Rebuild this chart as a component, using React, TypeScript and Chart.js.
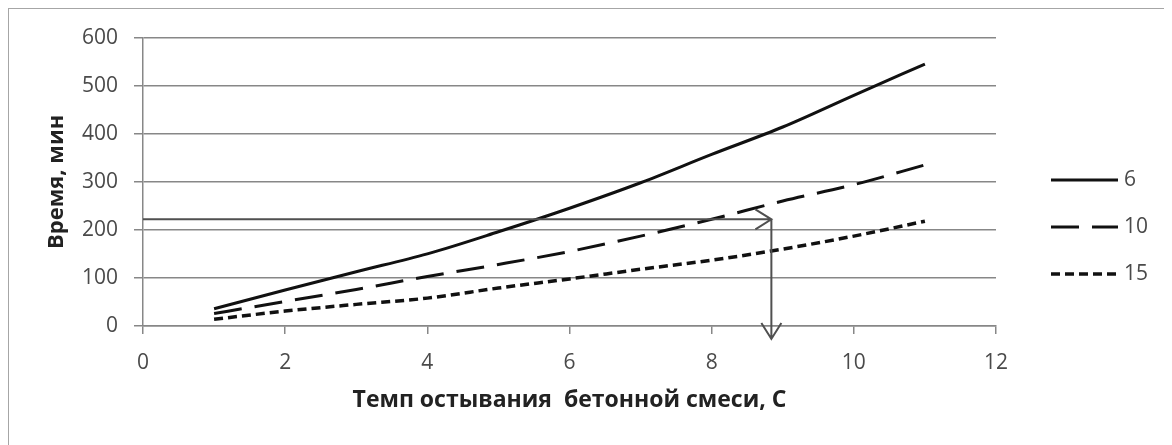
import { useEffect, useRef } from "react";
import { Chart, registerables } from "chart.js";

Chart.register(...registerables);

// ---- data ----
const COOLING_RATE = [1, 2, 3, 4, 5, 6, 7, 8, 9, 10, 11];
const SERIES_LABELS = ["6", "10", "15"];
const TIME_6 = [36, 75, 113, 150, 196, 245, 298, 357, 414, 480, 545];
const TIME_10 = [26, 51, 76, 103, 128, 155, 187, 222, 260, 294, 335];
const TIME_15 = [14, 31, 45, 58, 79, 98, 118, 137, 160, 187, 218];
const X_MIN = 0;
const X_MAX = 12;
const X_STEP = 2;
const Y_MIN = 0;
const Y_MAX = 600;
const Y_STEP = 100;
// reading arrow (value on curve → rate)
const ARROW_TIME = 222;
const ARROW_RATE = 8.84;
const ARROW_END_TIME = -27;

const X_TITLE = "Темп остывания  бетонной смеси, С";
const Y_TITLE = "Время, мин";

const FONT = "'Open Sans', 'DejaVu Sans', sans-serif";
const GRID = "#878787";
const LINE = "#111111";
const TICK_COLOR = "#4a4a4a";
const TITLE_COLOR = "#222222";
const DASHES = [[], [28, 13], [9, 5]];

const legendPlugin = {
  id: "sideLegend",
  afterDraw(chart: any) {
    const { ctx, chartArea } = chart;
    const x0 = chartArea.right + 55;
    const w = 67;
    const cy = chart.height / 2;
    const gap = 47;
    chart.data.datasets.forEach((ds: any, i: number) => {
      const y = cy + (i - 1) * gap;
      ctx.save();
      ctx.strokeStyle = ds.borderColor;
      ctx.lineWidth = ds.borderWidth;
      ctx.setLineDash(ds.borderDash || []);
      ctx.beginPath();
      ctx.moveTo(x0, y);
      ctx.lineTo(x0 + w, y);
      ctx.stroke();
      ctx.setLineDash([]);
      ctx.fillStyle = TICK_COLOR;
      ctx.font = `21px ${FONT}`;
      ctx.textBaseline = "middle";
      ctx.textAlign = "left";
      ctx.fillText(ds.label, x0 + w + 6, y);
      ctx.restore();
    });
  },
};

const arrowPlugin = {
  id: "readArrow",
  afterDatasetsDraw(chart: any) {
    const { ctx } = chart;
    const xs = chart.scales.x;
    const ys = chart.scales.y;
    const xStart = xs.getPixelForValue(X_MIN);
    const xEnd = xs.getPixelForValue(ARROW_RATE);
    const yH = ys.getPixelForValue(ARROW_TIME);
    const yEnd = ys.getPixelForValue(ARROW_END_TIME);
    ctx.save();
    ctx.strokeStyle = "#505050";
    ctx.lineWidth = 2;
    ctx.setLineDash([]);
    ctx.beginPath();
    ctx.moveTo(xStart, yH);
    ctx.lineTo(xEnd, yH);
    ctx.moveTo(xEnd - 16, yH - 10);
    ctx.lineTo(xEnd, yH);
    ctx.lineTo(xEnd - 16, yH + 10);
    ctx.moveTo(xEnd, yH);
    ctx.lineTo(xEnd, yEnd);
    ctx.moveTo(xEnd - 10, yEnd - 16);
    ctx.lineTo(xEnd, yEnd);
    ctx.lineTo(xEnd + 10, yEnd - 16);
    ctx.stroke();
    ctx.restore();
  },
};

export default function App() {
  const ref = useRef<HTMLCanvasElement>(null);

  useEffect(() => {
    if (!ref.current) return;
    const series = [TIME_6, TIME_10, TIME_15];
    const chart = new Chart(ref.current, {
      type: "line",
      data: {
        datasets: series.map((vals, i) => ({
          label: SERIES_LABELS[i],
          data: COOLING_RATE.map((x, j) => ({ x, y: vals[j] })),
          borderColor: LINE,
          borderWidth: i === 2 ? 3.5 : 3,
          borderDash: DASHES[i],
          pointRadius: 0,
          cubicInterpolationMode: "monotone",
          fill: false,
        })),
      },
      options: {
        animation: false,
        responsive: false,
        maintainAspectRatio: false,
        layout: { padding: { left: 35, right: 176, top: 26, bottom: 31 } },
        plugins: {
          legend: { display: false },
          tooltip: { enabled: false },
        },
        scales: {
          x: {
            type: "linear",
            min: X_MIN,
            max: X_MAX,
            ticks: {
              stepSize: X_STEP,
              color: TICK_COLOR,
              font: { family: FONT, size: 21 },
              padding: 16,
              maxRotation: 0,
            },
            grid: {
              drawOnChartArea: false,
              drawTicks: true,
              tickLength: 8,
              color: GRID,
              lineWidth: 1.5,
            },
            border: { display: true, color: GRID, width: 1.5 },
            title: {
              display: true,
              text: X_TITLE,
              color: TITLE_COLOR,
              font: { family: FONT, size: 23, weight: "bold" },
              padding: 0,
            },
            afterFit(scale: any) {
              scale.height = 88;
            },
          },
          y: {
            type: "linear",
            min: Y_MIN,
            max: Y_MAX,
            ticks: {
              stepSize: Y_STEP,
              color: TICK_COLOR,
              font: { family: FONT, size: 21 },
              padding: 16,
            },
            grid: {
              drawTicks: true,
              tickLength: 9,
              color: GRID,
              lineWidth: 1.5,
            },
            border: { display: true, color: GRID, width: 1.5 },
            title: {
              display: true,
              text: Y_TITLE,
              color: TITLE_COLOR,
              font: { family: FONT, size: 22, weight: "bold" },
              padding: 0,
            },
            afterFit(scale: any) {
              scale.width = 99;
            },
          },
        },
      },
      plugins: [arrowPlugin, legendPlugin],
    } as any);
    return () => chart.destroy();
  }, []);

  return (
    <div
      style={{
        marginLeft: -1,
        marginTop: -1,
        width: 1200,
        height: 460,
        borderTop: "2px solid #a6a6a6",
        borderLeft: "2px solid #a6a6a6",
        boxSizing: "border-box",
        background: "#fff",
      }}
    >
      <canvas ref={ref} width={1163} height={436} style={{ display: "block" }} />
    </div>
  );
}
